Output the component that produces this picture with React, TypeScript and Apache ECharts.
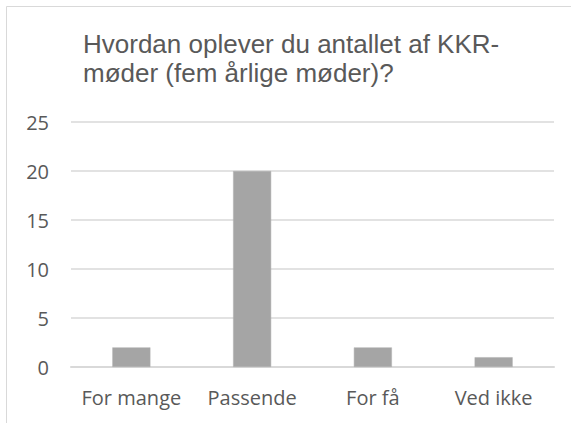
import React, { useEffect, useRef } from "react";
import * as echarts from "echarts";

const titleLines = ["Hvordan oplever du antallet af KKR-", "møder (fem årlige møder)?"];
const categories = ["For mange", "Passende", "For få", "Ved ikke"];
const values = [2, 20, 2, 1];
const yTicks = { min: 0, max: 25, interval: 5 };

export default function App() {
  const ref = useRef<HTMLDivElement>(null);
  useEffect(() => {
    if (!ref.current) return;
    const chart = echarts.init(ref.current, undefined, { renderer: "svg" });
    chart.setOption({
      animation: false,
      backgroundColor: "#ffffff",
      title: {
        text: titleLines.join("\n"),
        left: 83,
        top: 29,
        padding: 0,
        textStyle: {
          fontFamily: "Liberation Sans, Arial, sans-serif",
          fontSize: 26,
          fontWeight: "normal",
          color: "#595959",
          lineHeight: 29,
        },
      },
      graphic: [
        {
          type: "rect",
          shape: { x: 6.5, y: 6.5, width: 700, height: 500 },
          style: { fill: "none", stroke: "#d9d9d9", lineWidth: 1 },
          silent: true,
        },
      ],
      grid: { left: 71, right: 17, top: 122, bottom: 56, containLabel: false },
      xAxis: {
        type: "category",
        data: categories,
        axisLine: { show: true, lineStyle: { color: "#d9d9d9", width: 2 } },
        axisTick: { show: false },
        axisLabel: {
          interval: 0,
          hideOverlap: false,
          color: "#595959",
          fontFamily: "Open Sans, sans-serif",
          fontSize: 20,
          margin: 20,
        },
      },
      yAxis: {
        type: "value",
        min: yTicks.min,
        max: yTicks.max,
        interval: yTicks.interval,
        axisLine: { show: false },
        axisTick: { show: false },
        splitLine: { lineStyle: { color: "#d9d9d9", width: 1.5 } },
        axisLabel: {
          color: "#595959",
          fontFamily: "Open Sans, sans-serif",
          fontSize: 20,
          margin: 22,
        },
      },
      series: [
        {
          type: "bar",
          data: values,
          barWidth: "31.5%",
          itemStyle: { color: "#a5a5a5", borderColor: "#b0b0b0", borderWidth: 0.5 },
        },
      ],
    });
    return () => chart.dispose();
  }, []);
  return (
    <div
      ref={ref}
      style={{ position: "fixed", left: 0, top: 0, width: 571, height: 423, background: "#fff" }}
    />
  );
}
